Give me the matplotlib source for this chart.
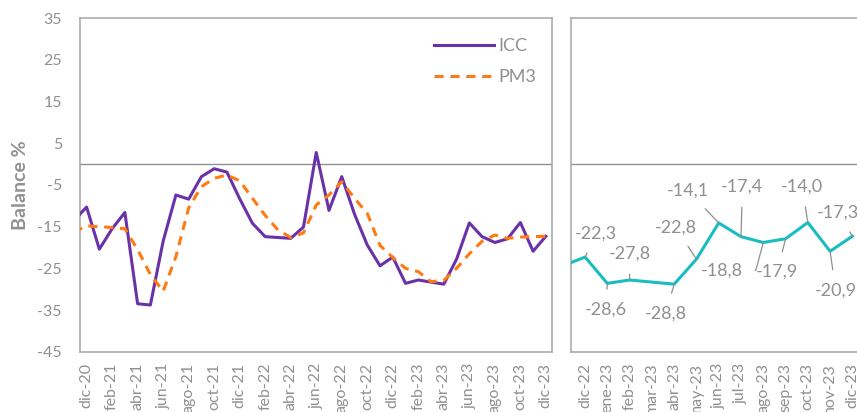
import matplotlib
matplotlib.use("Agg")
import matplotlib.pyplot as plt

plt.rcParams['font.family'] = ['Lato', 'DejaVu Sans']
plt.rcParams['axes.unicode_minus'] = False

# months from nov-20 to dic-23
mes = ["ene", "feb", "mar", "abr", "may", "jun", "jul", "ago", "sep", "oct", "nov", "dic"]
months = ["nov-20", "dic-20"] + [m + "-" + y for y in ["21", "22", "23"] for m in mes]

icc = [-13.5, -10.3, -20.4, -15.5, -11.6, -33.5, -33.8, -18.5, -7.4, -8.4,
       -3.0, -1.1, -1.9, -8.3, -14.2, -17.4, -17.6, -17.8, -15.1, 2.8,
       -11.1, -3.0, -12.0, -19.4, -24.4, -22.3, -28.6, -27.8, -28.3, -28.8,
       -22.8, -14.1, -17.4, -18.8, -17.9, -14.0, -20.9, -17.3]

pm3 = [-16.3, -14.8, -15.0, -15.2, -15.5, -20.5, -26.5, -30.5, -22.2, -10.5,
       -5.4, -3.4, -2.6, -4.0, -8.2, -12.3, -15.8, -17.6, -16.5, -9.8,
       -7.4, -4.2, -8.2, -11.8, -19.5, -22.4, -25.0, -25.8, -28.2, -27.9,
       -25.0, -21.5, -18.5, -17.0, -17.8, -17.5, -17.4, -17.3]

# right panel: last 14 months (nov-22 .. dic-23), labels from dic-22
zoom_months = months[-14:]
zoom_icc = icc[-14:]
zoom_labels = ["-22,3", "-28,6", "-27,8", "", "-28,8", "-22,8", "-14,1",
               "-17,4", "-18,8", "-17,9", "-14,0", "-20,9", "-17,3"]
# label offsets in points (dx, dy) relative to each point
label_offsets = [(8, 17), (-1, -19), (0, 19), (0, 0), (-6, -21), (-15, 23), (-22, 23),
                 (1, 36), (-30, -20), (-6, -24), (-4, 26), (4, -28), (-10, 17)]

purple = "#6a32a8"
orange = "#ff7a12"
teal = "#19bcc2"
grey = "#909090"
spine_c = "#a6a6a6"

fig = plt.figure(figsize=(8.57, 4.12), dpi=100)
ax = fig.add_axes([0.0933, 0.1464, 0.5511, 0.8092])
ax2 = fig.add_axes([0.6663, 0.1464, 0.3413, 0.8092])

x = list(range(-1, len(months) - 1))
ax.plot(x, icc, color=purple, lw=2.2, label="ICC", zorder=3)
ax.plot(x, pm3, color=orange, lw=2.2, ls=(0, (3, 2.2)), label="PM3", zorder=3)
ax.axhline(0, color=grey, lw=1.0, zorder=1)
ax.set_xlim(-0.52, 36.5)
ax.set_ylim(-45, 35)
ax.set_yticks(range(-45, 36, 10))
ax.set_xticks(x[1::2])
ax.set_xticklabels(months[1::2], rotation=90, va="top")
ax.tick_params(axis="both", length=0, labelsize=11.5, labelcolor=grey)
ax.tick_params(axis="y", pad=13)
ax.tick_params(axis="x", pad=8)
ax.set_ylabel("Balance %", fontsize=14, fontweight="bold", color=grey)
ax.yaxis.set_label_coords(-0.108, 0.5)
for s in ax.spines.values():
    s.set_color(spine_c)
    s.set_linewidth(1.1)
leg = ax.legend(loc="upper right", bbox_to_anchor=(1.0, 0.99), frameon=False,
                fontsize=13, handlelength=3.3, handletextpad=0.25, labelspacing=0.85)
for t in leg.get_texts():
    t.set_color(grey)

x2 = list(range(-1, len(zoom_months) - 1))
ax2.plot(x2, zoom_icc, color=teal, lw=2.2, zorder=3)
ax2.axhline(0, color=grey, lw=1.0, zorder=1)
ax2.set_xlim(-0.63, 12.5)
ax2.set_ylim(-45, 35)
ax2.set_yticks([])
ax2.set_xticks(x2[1:])
ax2.set_xticklabels(zoom_months[1:], rotation=90, va="top")
ax2.tick_params(axis="x", length=0, labelsize=11.5, labelcolor=grey, pad=8)
for s in ax2.spines.values():
    s.set_color(spine_c)
    s.set_linewidth(1.1)

for i, (lab, off) in enumerate(zip(zoom_labels, label_offsets)):
    if not lab:
        continue
    cs = "arc3"
    if lab == "-18,8":
        cs = "angle,angleA=0,angleB=75,rad=0"
    ax2.annotate(lab, xy=(x2[i + 1], zoom_icc[i + 1]), xytext=off, textcoords="offset points",
                 ha="center", va="center", fontsize=13, color=grey,
                 arrowprops=dict(arrowstyle="-", color=grey, lw=0.9, shrinkA=7, shrinkB=0,
                                 connectionstyle=cs))

fig.savefig("out.png", dpi=100)
